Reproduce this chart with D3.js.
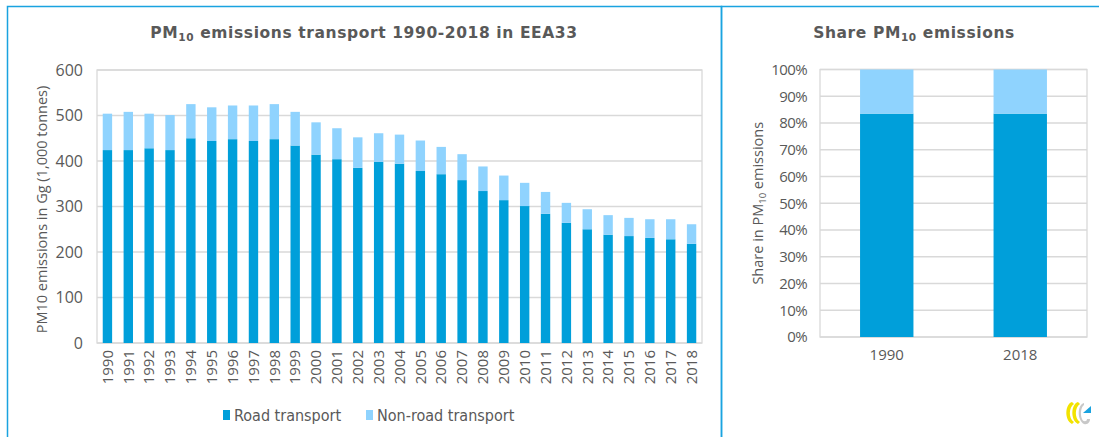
<!DOCTYPE html>
<html>
<head>
<meta charset="utf-8">
<script src="https://cdn.jsdelivr.net/npm/d3@7"></script>
<style>
  html, body { margin: 0; padding: 0; background: #fff; }
  svg { display: block; }
</style>
</head>
<body>
<svg id="chart" width="1099" height="437"></svg>
<script>
// ---------- data ----------
const years = ["1990","1991","1992","1993","1994","1995","1996","1997","1998","1999",
               "2000","2001","2002","2003","2004","2005","2006","2007","2008","2009",
               "2010","2011","2012","2013","2014","2015","2016","2017","2018"];
const roadTransport = [424,424,428,424,450,444,448,444,448,434,
                       414,404,385,398,394,378,371,358,334,314,
                       301,284,264,250,238,235,231,228,218];
const nonRoadTransport = [80,84,76,77,75,74,74,78,77,74,
                          71,68,67,63,64,67,60,57,54,54,
                          51,48,44,44,43,40,41,44,43];
const yTicks = [0,100,200,300,400,500,600];

const shareYears = ["1990","2018"];
const shareRoad = [83.5, 83.5];
const shareNonRoad = [16.5, 16.5];
const shareTicks = [0,10,20,30,40,50,60,70,80,90,100];

const seriesNames = ["Road transport","Non-road transport"];
const colors = ["#009fda","#8fd3fe"];

// ---------- setup ----------
const svg = d3.select("#chart");
const textColor = "#595959";
const gridColor = "#d9d9d9";
const frameColor = "#1aa3e0";
const tickFont = "'Open Sans', sans-serif";
const titleFont = "'DejaVu Sans', sans-serif";

// panel frames
svg.append("rect").attr("x",7.5).attr("y",6.5).attr("width",714).attr("height",440)
  .attr("fill","none").attr("stroke",frameColor).attr("stroke-width",1.5);
svg.append("rect").attr("x",721.5).attr("y",6.5).attr("width",390).attr("height",440)
  .attr("fill","none").attr("stroke",frameColor).attr("stroke-width",1.5);

function titleWithSub(g, x, y, pre, post, size) {
  const t = g.append("text").attr("x",x).attr("y",y).attr("text-anchor","middle")
    .attr("font-family",titleFont).attr("font-weight","bold").attr("font-size",size)
    .attr("fill",textColor).attr("letter-spacing","0.6px");
  t.append("tspan").text(pre);
  t.append("tspan").attr("font-size",size*0.68).attr("dy",3).text("10");
  t.append("tspan").attr("dy",-3).text(post);
  return t;
}

// ---------- left chart ----------
const L = {x0:97, x1:702, y0:70, y1:343};
const x = d3.scaleBand().domain(years).range([L.x0, L.x1]).paddingInner(0.55).paddingOuter(0.275);
const y = d3.scaleLinear().domain([0,600]).range([L.y1, L.y0]);

const gL = svg.append("g");
gL.append("g").selectAll("line").data(yTicks).join("line")
  .attr("x1",L.x0).attr("x2",L.x1).attr("y1",d=>y(d)).attr("y2",d=>y(d))
  .attr("stroke",gridColor).attr("stroke-width",1.3);
gL.append("rect").attr("x",L.x0).attr("y",L.y0).attr("width",L.x1-L.x0).attr("height",L.y1-L.y0)
  .attr("fill","none").attr("stroke",gridColor).attr("stroke-width",1.3);

const table = years.map((yr,i)=>({year:yr, road:roadTransport[i], nonroad:nonRoadTransport[i]}));
const stack = d3.stack().keys(["road","nonroad"])(table);
gL.append("g").selectAll("g").data(stack).join("g")
  .attr("fill",(d,i)=>colors[i])
  .selectAll("rect").data(d=>d).join("rect")
  .attr("x",d=>x(d.data.year)).attr("width",x.bandwidth())
  .attr("y",d=>y(d[1])).attr("height",d=>y(d[0])-y(d[1]));

// y axis
const yAxis = d3.axisLeft(y).tickValues(yTicks).tickSize(0).tickPadding(14);
const ya = gL.append("g").attr("transform",`translate(${L.x0},0)`).call(yAxis);
ya.select(".domain").remove();
ya.selectAll("text").attr("font-family",tickFont).attr("font-size",16).attr("fill",textColor);

// x axis (rotated years)
const xAxis = d3.axisBottom(x).tickSize(0).tickPadding(0);
const xa = gL.append("g").attr("transform",`translate(0,${L.y1})`).call(xAxis);
xa.select(".domain").remove();
xa.selectAll(".tick text").attr("font-family",tickFont).attr("font-size",15).attr("fill",textColor)
  .attr("transform","rotate(-90)").attr("text-anchor","end")
  .attr("y",0).attr("x",-7).attr("dy","0.35em").attr("dx",0);

// y title
gL.append("text").attr("transform",`translate(47,${(L.y0+L.y1)/2 + 3}) rotate(-90)`)
  .attr("text-anchor","middle").attr("font-family",tickFont).attr("font-size",14.5)
  .attr("fill",textColor).text("PM10 emissions in Gg (1,000 tonnes)");

// title
titleWithSub(gL, 364, 38, "PM", " emissions transport 1990-2018 in EEA33", 15.5);

// legend
const leg = gL.append("g").attr("font-family","'DejaVu Sans Condensed', 'DejaVu Sans', sans-serif").attr("font-size",16).attr("fill",textColor);
const legX = [223, 366];
seriesNames.forEach((n,i)=>{
  leg.append("rect").attr("x",legX[i]).attr("y",410).attr("width",7).attr("height",10).attr("fill",colors[i]);
  leg.append("text").attr("x",legX[i]+11).attr("y",420.5).text(n);
});

// ---------- right chart ----------
const R = {x0:820, x1:1087, y0:69.5, y1:337};
const x2 = d3.scaleBand().domain(shareYears).range([R.x0, R.x1]).paddingInner(0.6).paddingOuter(0.3);
const y2 = d3.scaleLinear().domain([0,100]).range([R.y1, R.y0]);
const gR = svg.append("g");
gR.append("g").selectAll("line").data(shareTicks).join("line")
  .attr("x1",R.x0).attr("x2",R.x1).attr("y1",d=>y2(d)).attr("y2",d=>y2(d))
  .attr("stroke",gridColor).attr("stroke-width",1.3);
gR.append("rect").attr("x",R.x0).attr("y",R.y0).attr("width",R.x1-R.x0).attr("height",R.y1-R.y0)
  .attr("fill","none").attr("stroke",gridColor).attr("stroke-width",1.3);

const table2 = shareYears.map((yr,i)=>({year:yr, road:shareRoad[i], nonroad:shareNonRoad[i]}));
const stack2 = d3.stack().keys(["road","nonroad"])(table2);
gR.append("g").selectAll("g").data(stack2).join("g")
  .attr("fill",(d,i)=>colors[i])
  .selectAll("rect").data(d=>d).join("rect")
  .attr("x",d=>x2(d.data.year)).attr("width",x2.bandwidth())
  .attr("y",d=>y2(d[1])).attr("height",d=>y2(d[0])-y2(d[1]));

const yAxis2 = d3.axisLeft(y2).tickValues(shareTicks).tickFormat(d=>d+"%").tickSize(0).tickPadding(13);
const ya2 = gR.append("g").attr("transform",`translate(${R.x0},0)`).call(yAxis2);
ya2.select(".domain").remove();
ya2.selectAll("text").attr("font-family",tickFont).attr("font-size",15).attr("fill",textColor).attr("letter-spacing","-0.6px");

const xAxis2 = d3.axisBottom(x2).tickSize(0).tickPadding(12);
const xa2 = gR.append("g").attr("transform",`translate(0,${R.y1})`).call(xAxis2);
xa2.select(".domain").remove();
xa2.selectAll("text").attr("font-family",tickFont).attr("font-size",15).attr("fill",textColor);

const yl2 = gR.append("text").attr("transform",`translate(763,${(R.y0+R.y1)/2}) rotate(-90)`)
  .attr("text-anchor","middle").attr("font-family",tickFont).attr("font-size",14.5)
  .attr("fill",textColor);
yl2.append("tspan").text("Share in PM");
yl2.append("tspan").attr("font-size",9.5).attr("dy",3).text("10");
yl2.append("tspan").attr("dy",-3).text(" emissions");

titleWithSub(gR, 914, 38, "Share PM", " emissions", 15.5);

// logo (small EEA mark)
const logo = svg.append("g").attr("transform","translate(1063,400)");
logo.append("path").attr("d","M9 2 C2 4 1 20 9 24 L11 22 C5 18 6 7 11 4 Z").attr("fill","#f2e300");
logo.append("path").attr("d","M15 2 C8 4 7 20 15 24 L17 22 C11 18 12 7 17 4 Z").attr("fill","#f2e300");
logo.append("path").attr("d","M21 3 C14 5 14 20 21 24 C25 25 27 22 27 19 L24 19 C24 22 20 22 19 19 C17 14 18 7 21 5 Z").attr("fill","#c8c8c8");
logo.append("path").attr("d","M20 13 L28 6 L28 13 Z").attr("fill","#1aa3e0");
</script>
</body>
</html>
